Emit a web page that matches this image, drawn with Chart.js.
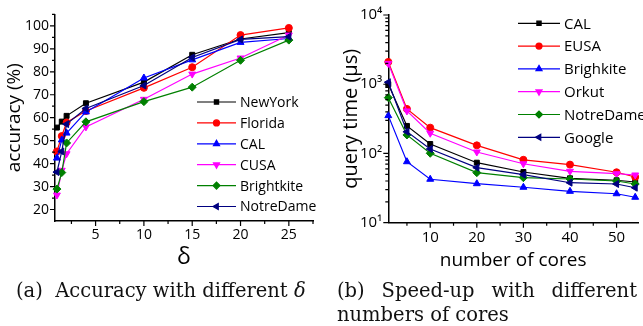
<!DOCTYPE html>
<html>
<head>
<meta charset="utf-8">
<script src="https://cdn.jsdelivr.net/npm/chart.js@4/dist/chart.umd.min.js"></script>
<style>
  body { margin: 0; background: #fff; width: 643px; height: 326px; overflow: hidden; position: relative; }
  canvas { position: absolute; top: 0; }
  #acc { left: 0; }
  #speed { left: 320px; }
  .cap { position: absolute; font-family: "DejaVu Serif", "Liberation Serif", serif; font-size: 19.5px; line-height: 24px; color: #111; white-space: nowrap; }
</style>
</head>
<body>
<canvas id="acc" width="320" height="280"></canvas>
<canvas id="speed" width="323" height="280"></canvas>
<div class="cap" style="left:16px; top:279px;">(a)&nbsp; Accuracy with different <i>δ</i></div>
<div class="cap" style="left:337px; top:279px; width:300px; text-align:justify; text-align-last:justify;">(b) Speed-up with different</div>
<div class="cap" style="left:337px; top:303px;">numbers of cores</div>
<script>
// (a) accuracy vs delta
const deltas = [1, 1.5, 2, 4, 10, 15, 20, 25];
const newYork = [55.7, 58.3, 60.8, 66.3, 75.5, 87.4, 94.3, 97.1];
const florida = [45.3, 52, 57.9, 62.9, 73, 82, 96, 99.1];
const calAcc = [42.4, 50.3, 53.3, 62.5, 77.3, 85.2, 92.8, 94.5];
const cusa = [26.3, 37.1, 44.3, 56, 68, 79, 86, 96];
const brightkite = [28.9, 36.1, 49, 58.2, 67, 73.3, 85, 93.8];
const notreDameAcc = [36.3, 45.3, 57.2, 64, 74, 86.2, 94.1, 95.3];
const accNames = ['NewYork', 'Florida', 'CAL', 'CUSA', 'Brightkite', 'NotreDame'];
const deltaTicks = [5, 10, 15, 20, 25];
const deltaMinor = [2.5, 7.5, 12.5, 17.5, 22.5, 27.5];
const accTicks = [20, 30, 40, 50, 60, 70, 80, 90, 100];
const accMinor = [25, 35, 45, 55, 65, 75, 85, 95, 105];

// (b) query time vs cores
const cores = [1, 5, 10, 20, 30, 40, 50, 54];
const calTime = [1000, 250, 137, 73.6, 54, 43.8, 41, 38.7];
const eusa = [2100, 440, 236, 131, 81, 69, 53.5, 45.7];
const brighkite = [352, 76, 42.4, 36.6, 32.5, 28.4, 26.2, 23.3];
const orkut = [2000, 411, 196, 105, 71, 55.3, 51, 48.9];
const notreDameTime = [640, 185, 100.7, 52.8, 44.7, 42.8, 40, 36.2];
const google = [1070, 206, 116, 62.4, 49.4, 37.8, 36.2, 32];
const timeNames = ['CAL', 'EUSA', 'Brighkite', 'Orkut', 'NotreDame', 'Google'];
const coreTicks = [10, 20, 30, 40, 50];
const coreMinor = [5, 15, 25, 35, 45];
const timeTicks = [10, 100, 1000, 10000];
const supers = { 10: '10¹', 100: '10²', 1000: '10³', 10000: '10⁴' };

const colors = ['#000000', '#ff0000', '#0000ff', '#ff00ff', '#008000', '#000080'];
const markers = [
  { pointStyle: 'rect', rotation: 0, radius: 3.5 },
  { pointStyle: 'circle', rotation: 0, radius: 3.5 },
  { pointStyle: 'triangle', rotation: 0, radius: 4 },
  { pointStyle: 'triangle', rotation: 180, radius: 4 },
  { pointStyle: 'rectRot', rotation: 0, radius: 4 },
  { pointStyle: 'triangle', rotation: 270, radius: 4 },
];
const font = 'Open Sans';

function makeSets(names, xs, series) {
  return series.map((ys, i) => ({
    label: names[i],
    data: xs.map((x, j) => ({ x: x, y: ys[j] })),
    borderColor: colors[i],
    backgroundColor: colors[i],
    borderWidth: 1.2,
    pointStyle: markers[i].pointStyle,
    rotation: markers[i].rotation,
    pointRadius: markers[i].radius,
    pointBorderWidth: 1,
    order: names.length - i,
    clip: false,
  }));
}

// outward ticks (major + shorter minor) and in-plot legend
const decor = {
  id: 'decor',
  afterDraw(chart, args, o) {
    const ctx = chart.ctx;
    const xs = chart.scales.x, ys = chart.scales.y;
    const a = chart.chartArea;
    ctx.save();
    ctx.strokeStyle = '#000';
    ctx.lineWidth = 1.2;
    ctx.beginPath();
    o.xMajor.forEach(v => { const p = xs.getPixelForValue(v); ctx.moveTo(p, a.bottom); ctx.lineTo(p, a.bottom + 5); });
    o.xMinor.forEach(v => { const p = xs.getPixelForValue(v); ctx.moveTo(p, a.bottom); ctx.lineTo(p, a.bottom + 3); });
    o.yMajor.forEach(v => { const p = ys.getPixelForValue(v); ctx.moveTo(a.left, p); ctx.lineTo(a.left - 5, p); });
    o.yMinor.forEach(v => { const p = ys.getPixelForValue(v); ctx.moveTo(a.left, p); ctx.lineTo(a.left - 3, p); });
    ctx.stroke();

    const lg = o.legend;
    ctx.font = lg.size + 'px "' + font + '"';
    ctx.textBaseline = 'middle';
    chart.data.datasets.forEach((ds, i) => {
      const y = lg.y + i * lg.dy;
      ctx.strokeStyle = ds.borderColor;
      ctx.lineWidth = 1.2;
      ctx.beginPath();
      ctx.moveTo(lg.x, y);
      ctx.lineTo(lg.x + lg.len, y);
      ctx.stroke();
      ctx.fillStyle = ds.backgroundColor;
      Chart.helpers.drawPoint(ctx, {
        pointStyle: ds.pointStyle, rotation: ds.rotation, radius: ds.pointRadius - 0.5, borderWidth: 1
      }, lg.x + lg.len / 2, y);
      ctx.fillStyle = '#000';
      ctx.fillText(ds.label, lg.x + lg.len + 4, y + 1);
    });
    ctx.restore();
  }
};

function setTicks(list) {
  return s => { s.ticks = list.map(v => ({ value: v })); };
}

new Chart(document.getElementById('acc'), {
  type: 'line',
  data: { datasets: makeSets(accNames, deltas, [newYork, florida, calAcc, cusa, brightkite, notreDameAcc]) },
  options: {
    responsive: false,
    animation: false,
    layout: { padding: { left: 0, top: 13, right: 7, bottom: 0 } },
    plugins: {
      legend: { display: false },
      tooltip: { enabled: false },
      decor: {
        xMajor: deltaTicks, xMinor: deltaMinor, yMajor: accTicks, yMinor: accMinor,
        legend: { x: 197, y: 102, dy: 20.9, len: 39, size: 14 }
      }
    },
    scales: {
      x: {
        type: 'linear', min: 0.8, max: 27.5,
        afterBuildTicks: setTicks(deltaTicks),
        afterFit: s => { s.height = 59; },
        grid: { display: false, drawTicks: false },
        border: { color: '#000', width: 1.5 },
        ticks: { color: '#000', padding: 6, maxRotation: 0, font: { family: font, size: 14 } },
        title: { display: true, text: 'δ', color: '#000', font: { family: font, size: 23 }, padding: { top: 0, bottom: 9 } }
      },
      y: {
        type: 'linear', min: 15, max: 105,
        afterBuildTicks: setTicks(accTicks),
        afterFit: s => { s.width = 55; },
        grid: { display: false, drawTicks: false },
        border: { color: '#000', width: 1.5 },
        ticks: { color: '#000', padding: 6, font: { family: font, size: 14 } },
        title: { display: true, text: 'accuracy (%)', color: '#000', font: { family: font, size: 19 }, padding: { top: 3, bottom: 0 } }
      }
    }
  },
  plugins: [decor]
});

const timeMinor = [];
[10, 100, 1000].forEach(d => { for (let k = 2; k <= 9; k++) timeMinor.push(d * k); });

new Chart(document.getElementById('speed'), {
  type: 'line',
  data: { datasets: makeSets(timeNames, cores, [calTime, eusa, brighkite, orkut, notreDameTime, google]) },
  options: {
    responsive: false,
    animation: false,
    layout: { padding: { left: 0, top: 15, right: 0, bottom: 0 } },
    plugins: {
      legend: { display: false },
      tooltip: { enabled: false },
      decor: {
        xMajor: coreTicks, xMinor: coreMinor, yMajor: timeTicks, yMinor: timeMinor,
        legend: { x: 198, y: 23.3, dy: 22.8, len: 42, size: 15 }
      }
    },
    scales: {
      x: {
        type: 'linear', min: 1, max: 54.6,
        afterBuildTicks: setTicks(coreTicks),
        afterFit: s => { s.height = 57.3; },
        grid: { display: false, drawTicks: false },
        border: { color: '#000', width: 1.5 },
        ticks: { color: '#000', padding: 6, maxRotation: 0, font: { family: font, size: 15 } },
        title: { display: true, text: 'number of cores', color: '#000', font: { family: font, size: 19 }, padding: { top: 0, bottom: 8 } }
      },
      y: {
        type: 'logarithmic', min: 10, max: 10000,
        afterBuildTicks: setTicks(timeTicks),
        afterFit: s => { s.width = 68.3; },
        grid: { display: false, drawTicks: false },
        border: { color: '#000', width: 1.5 },
        ticks: { color: '#000', padding: 6, font: { family: font, size: 15 }, callback: v => supers[v] || '' },
        title: { display: true, text: 'query time (μs)', color: '#000', font: { family: font, size: 20 }, padding: { top: 19, bottom: 0 } }
      }
    }
  },
  plugins: [decor]
});
</script>
</body>
</html>
